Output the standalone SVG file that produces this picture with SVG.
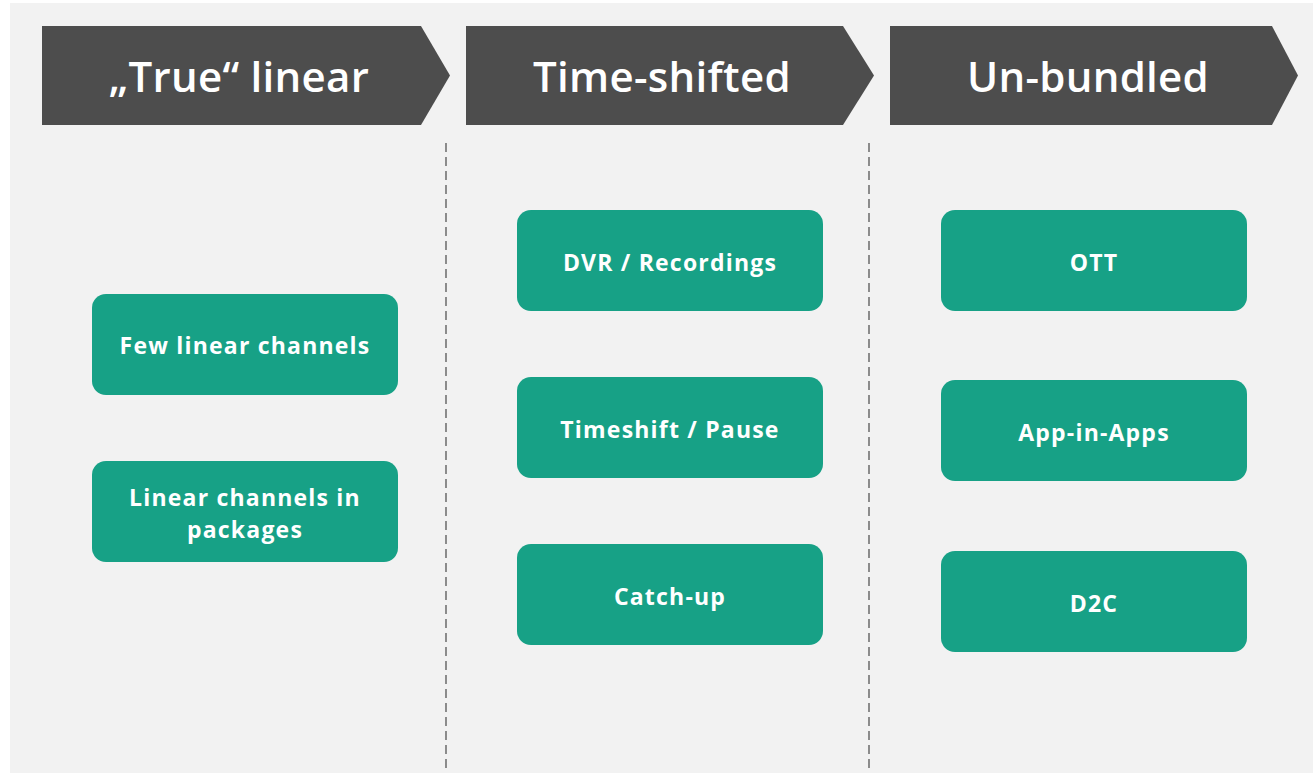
<svg xmlns="http://www.w3.org/2000/svg" width="1313" height="774" viewBox="0 0 1313 774">
  <style>
    .bg { fill: #f2f2f2; }
    .chev { fill: #4d4d4d; }
    .head { fill: #ffffff; font-family: "Open Sans", "DejaVu Sans", sans-serif; font-weight: 600; font-size: 42px; letter-spacing: 0.3px; text-anchor: middle; }
    .box { fill: #17a186; }
    .lbl { fill: #ffffff; font-family: "Open Sans", "DejaVu Sans", sans-serif; font-weight: 700; font-size: 23px; letter-spacing: 1.2px; text-anchor: middle; }
    .sep { stroke: #555555; stroke-width: 1.3; stroke-dasharray: 9 5; fill: none; }
  </style>

  <rect class="bg" x="10" y="3" width="1303" height="770"/>

  <!-- column headers -->
  <g id="header-true-linear">
    <polygon class="chev" points="42,26 421,26 450,75.5 421,125 42,125"/>
    <text class="head" x="239" y="92">„True“ linear</text>
  </g>
  <g id="header-time-shifted">
    <polygon class="chev" points="466,26 843,26 874,75.5 843,125 466,125"/>
    <text class="head" x="662" y="92">Time-shifted</text>
  </g>
  <g id="header-un-bundled">
    <polygon class="chev" points="890,26 1272,26 1298,75.5 1272,125 890,125"/>
    <text class="head" x="1088" y="92">Un-bundled</text>
  </g>

  <!-- column separators -->
  <g id="connectors">
    <line class="sep" x1="446" y1="143" x2="446" y2="770"/>
    <line class="sep" x1="869" y1="143" x2="869" y2="770"/>
  </g>

  <!-- linear column -->
  <g id="few-linear-channels">
    <rect class="box" x="92" y="294" width="306" height="101" rx="14"/>
    <text class="lbl" x="245" y="354">Few linear channels</text>
  </g>
  <g id="linear-channels-in-packages">
    <rect class="box" x="92" y="461" width="306" height="101" rx="14"/>
    <text class="lbl" x="245" y="506">Linear channels in</text>
    <text class="lbl" x="245" y="538">packages</text>
  </g>

  <!-- time-shifted column -->
  <g id="dvr-recordings">
    <rect class="box" x="517" y="210" width="306" height="101" rx="14"/>
    <text class="lbl" x="670" y="271">DVR / Recordings</text>
  </g>
  <g id="timeshift-pause">
    <rect class="box" x="517" y="377" width="306" height="101" rx="14"/>
    <text class="lbl" x="670" y="438">Timeshift / Pause</text>
  </g>
  <g id="catch-up">
    <rect class="box" x="517" y="544" width="306" height="101" rx="14"/>
    <text class="lbl" x="670" y="605">Catch-up</text>
  </g>

  <!-- un-bundled column -->
  <g id="ott">
    <rect class="box" x="941" y="210" width="306" height="101" rx="14"/>
    <text class="lbl" x="1094" y="271">OTT</text>
  </g>
  <g id="app-in-apps">
    <rect class="box" x="941" y="380" width="306" height="101" rx="14"/>
    <text class="lbl" x="1094" y="441">App-in-Apps</text>
  </g>
  <g id="d2c">
    <rect class="box" x="941" y="551" width="306" height="101" rx="14"/>
    <text class="lbl" x="1094" y="612">D2C</text>
  </g>
</svg>
